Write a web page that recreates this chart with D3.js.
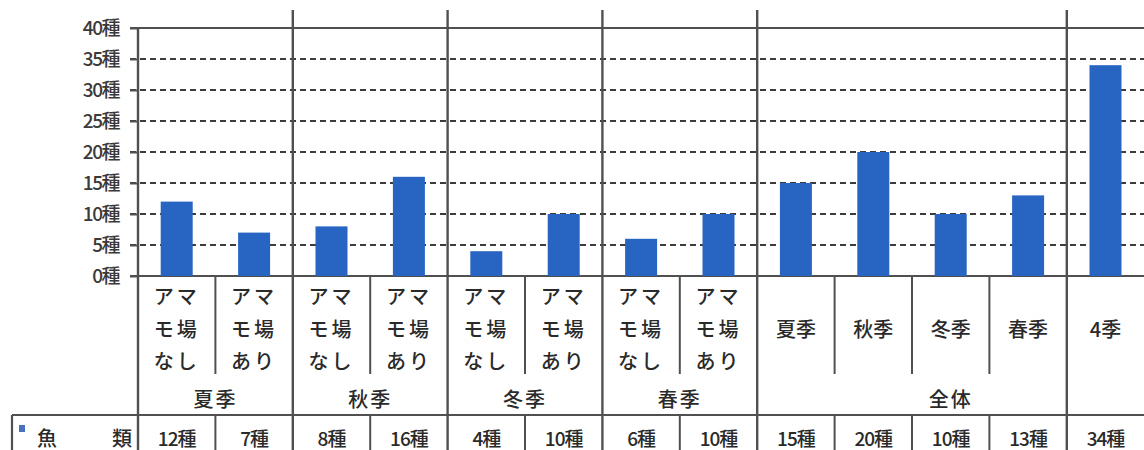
<!DOCTYPE html>
<html>
<head>
<meta charset="utf-8">
<script src="https://cdn.jsdelivr.net/npm/d3@7"></script>
<style>
  body { margin: 0; background: #fff; }
  svg text { font-family: "Noto Sans CJK JP", "Noto Sans", sans-serif; fill: #2a2a2a; font-weight: 500; }
</style>
</head>
<body>
<div id="chart"></div>
<script>
// data
var categories = [
  ["アマ", "モ場", "なし"], ["アマ", "モ場", "あり"],
  ["アマ", "モ場", "なし"], ["アマ", "モ場", "あり"],
  ["アマ", "モ場", "なし"], ["アマ", "モ場", "あり"],
  ["アマ", "モ場", "なし"], ["アマ", "モ場", "あり"],
  ["夏季"], ["秋季"], ["冬季"], ["春季"], ["4季"]
];
var groupNames = ["夏季", "秋季", "冬季", "春季", "全体"];
var groupSizes = [2, 2, 2, 2, 5];
var values = [12, 7, 8, 16, 4, 10, 6, 10, 15, 20, 10, 13, 34];
var valueLabels = ["12種", "7種", "8種", "16種", "4種", "10種", "6種", "10種", "15種", "20種", "10種", "13種", "34種"];
var yTicks = [0, 5, 10, 15, 20, 25, 30, 35, 40];
var seriesName = "魚類";

var W = 1144, H = 450;
var plotL = 138, plotR = 1144.2, plotT = 28, plotB = 276;
var lineColor = "#505050";

var svg = d3.select("#chart").append("svg")
  .attr("width", W)
  .attr("height", H);

var x = d3.scaleBand()
  .domain(d3.range(categories.length))
  .range([plotL, plotR])
  .padding(0);
var bw = x.bandwidth();

var y = d3.scaleLinear().domain([0, 40]).range([plotB, plotT]);

// gridlines
svg.append("g")
  .selectAll("line")
  .data(yTicks.filter(function (t) { return t > 0 && t < 40; }))
  .enter()
  .append("line")
  .attr("x1", plotL - 8)
  .attr("x2", plotR)
  .attr("y1", function (d) { return y(d); })
  .attr("y2", function (d) { return y(d); })
  .attr("stroke", "#3c3c3c")
  .attr("stroke-width", 2)
  .attr("stroke-dasharray", "6,4");

// top & baseline
[40, 0].forEach(function (t) {
  svg.append("line")
    .attr("x1", plotL - 8).attr("x2", plotR)
    .attr("y1", y(t)).attr("y2", y(t))
    .attr("stroke", lineColor).attr("stroke-width", 2.2);
});

// y axis
var yAxis = svg.append("g")
  .attr("transform", "translate(" + plotL + ",0)")
  .call(d3.axisLeft(y).tickValues(yTicks).tickSize(8).tickPadding(11)
    .tickFormat(function (d) { return d + "種"; }));
yAxis.select(".domain").remove();
yAxis.selectAll(".tick line").attr("stroke", lineColor).attr("stroke-width", 2);
yAxis.selectAll("text")
  .attr("font-size", 19)
  .attr("letter-spacing", -1.5)
  .style("fill", "#3a3a3a");

// bars
svg.append("g")
  .selectAll("rect")
  .data(values)
  .enter()
  .append("rect")
  .attr("x", function (d, i) { return x(i) + bw / 2 - 16; })
  .attr("width", 32)
  .attr("y", function (d) { return y(d); })
  .attr("height", function (d) { return y(0) - y(d); })
  .attr("fill", "#2864c2");

// category separators
var starts = [];
var acc = 0;
groupSizes.forEach(function (n) { starts.push(acc); acc += n; });

// y axis line down to table
svg.append("line")
  .attr("x1", plotL).attr("x2", plotL)
  .attr("y1", plotT).attr("y2", H)
  .attr("stroke", lineColor).attr("stroke-width", 2.4);

// group separators (full height)
starts.slice(1).concat([categories.length - 1]).forEach(function (s) {
  svg.append("line")
    .attr("x1", x(s)).attr("x2", x(s))
    .attr("y1", 10).attr("y2", H)
    .attr("stroke", lineColor).attr("stroke-width", 2.4);
});

// inner separators
d3.range(categories.length).forEach(function (i) {
  if (i === 0 || starts.indexOf(i) >= 0 || i === categories.length - 1) return;
  svg.append("line")
    .attr("x1", x(i)).attr("x2", x(i))
    .attr("y1", plotB).attr("y2", 374)
    .attr("stroke", lineColor).attr("stroke-width", 2);
  svg.append("line")
    .attr("x1", x(i)).attr("x2", x(i))
    .attr("y1", 415).attr("y2", H)
    .attr("stroke", lineColor).attr("stroke-width", 2);
});

// category labels
var lineY = [295, 328, 360];
categories.forEach(function (lines, i) {
  var cx = x(i) + bw / 2;
  lines.forEach(function (txt, k) {
    svg.append("text")
      .attr("x", cx)
      .attr("y", lines.length === 1 ? lineY[1] : lineY[k])
      .attr("text-anchor", "middle")
      .attr("dominant-baseline", "central")
      .attr("font-size", 20)
      .attr("letter-spacing", lines.length === 1 ? 0 : 3)
      .text(txt);
  });
});

// group labels
groupNames.forEach(function (g, j) {
  var x0 = x(starts[j]);
  var x1 = starts[j] + groupSizes[j] >= categories.length ? plotR : x(starts[j] + groupSizes[j]);
  svg.append("text")
    .attr("x", (x0 + x1) / 2)
    .attr("y", 398)
    .attr("text-anchor", "middle")
    .attr("dominant-baseline", "central")
    .attr("font-size", 20)
    .attr("letter-spacing", 2)
    .text(g);
});

// data table
svg.append("line")
  .attr("x1", 12).attr("x2", plotR)
  .attr("y1", 415).attr("y2", 415)
  .attr("stroke", lineColor).attr("stroke-width", 2.2);
svg.append("line")
  .attr("x1", 12).attr("x2", 12)
  .attr("y1", 415).attr("y2", H)
  .attr("stroke", lineColor).attr("stroke-width", 2.2);

svg.append("rect")
  .attr("x", 19).attr("y", 425)
  .attr("width", 6).attr("height", 7)
  .attr("fill", "#4a70c0");
svg.append("text")
  .attr("x", 47).attr("y", 437)
  .attr("text-anchor", "middle").attr("dominant-baseline", "central")
  .attr("font-size", 20)
  .text(seriesName.charAt(0));
svg.append("text")
  .attr("x", 122).attr("y", 437)
  .attr("text-anchor", "middle").attr("dominant-baseline", "central")
  .attr("font-size", 20)
  .text(seriesName.charAt(1));

svg.append("g")
  .selectAll("text")
  .data(valueLabels)
  .enter()
  .append("text")
  .attr("x", function (d, i) { return x(i) + bw / 2; })
  .attr("y", 437)
  .attr("text-anchor", "middle")
  .attr("dominant-baseline", "central")
  .attr("font-size", 19)
  .attr("letter-spacing", -1)
  .text(function (d) { return d; });
</script>
</body>
</html>
